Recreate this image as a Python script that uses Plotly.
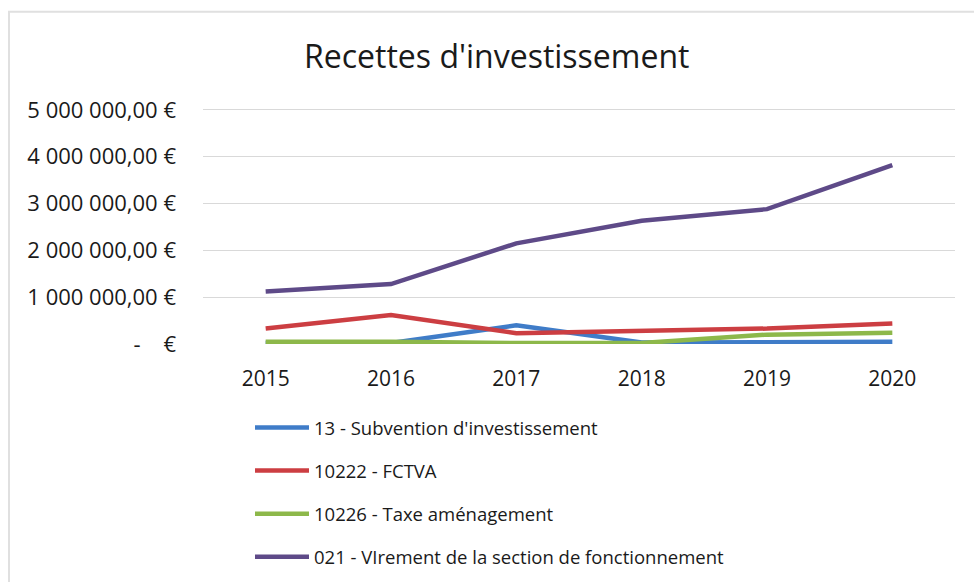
import plotly.graph_objects as go

years = ["2015", "2016", "2017", "2018", "2019", "2020"]
subvention = [20000, 20000, 400000, 30000, 40000, 50000]
fctva = [330000, 620000, 230000, 270000, 330000, 440000]
taxe = [50000, 50000, 20000, 20000, 200000, 240000]
virement = [1120000, 1280000, 2150000, 2630000, 2880000, 3820000]

series_names = [
    "13 - Subvention d'investissement",
    "10222 - FCTVA",
    "10226 - Taxe aménagement",
    "021 - VIrement de la section de fonctionnement",
]
series_values = [subvention, fctva, taxe, virement]
colors = ["#3F7CC8", "#CC3E42", "#8DB84A", "#5E4A88"]

tick_vals = [0, 1000000, 2000000, 3000000, 4000000, 5000000]
tick_text = ["-\u00a0\u00a0\u00a0\u00a0€", "1 000 000,00 €", "2 000 000,00 €",
             "3 000 000,00 €", "4 000 000,00 €", "5 000 000,00 €"]

FONT = "Open Sans"
Y_MAX = 5040000
PLOT_H = 234 * Y_MAX / 5000000
TOP = 582 - 238 - PLOT_H

fig = go.Figure()
for i, (name, vals, col) in enumerate(zip(series_names, series_values, colors)):
    fig.add_trace(go.Scatter(
        x=years, y=vals, name=name, mode="lines",
        line=dict(color=col, width=4.5),
        legendgroup=f"g{i}",
    ))

fig.update_layout(
    width=974, height=582,
    paper_bgcolor="white", plot_bgcolor="white",
    margin=dict(l=203, r=19, t=TOP, b=238, autoexpand=False),
    title=dict(text="Recettes d'investissement", x=0.51, xanchor="center",
               y=1 - 57 / 582, yanchor="middle",
               font=dict(family=FONT, size=32, color="#1a1a1a")),
    font=dict(family=FONT, color="#1a1a1a"),
    showlegend=True,
    legend=dict(
        xref="container", yref="container",
        x=250 / 974, y=1 - 409 / 582, xanchor="left", yanchor="top",
        font=dict(family=FONT, size=18.5, color="#1a1a1a"),
        tracegroupgap=16, itemwidth=54, bgcolor="rgba(0,0,0,0)",
    ),
    xaxis=dict(
        type="category", range=[-0.5, 5.5],
        showgrid=False, zeroline=False, showline=False,
        ticks="", tickfont=dict(family=FONT, size=21, color="#1a1a1a"),
        ticklabelstandoff=20, tickangle=0,
    ),
    yaxis=dict(
        range=[0, Y_MAX], tickvals=tick_vals, ticktext=tick_text,
        showgrid=True, gridcolor="#d9d9d9", gridwidth=1,
        zeroline=False, showline=False, ticks="",
        tickfont=dict(family=FONT, size=22, color="#1a1a1a"),
        ticklabelstandoff=26,
    ),
    shapes=[dict(type="rect", xref="paper", yref="paper",
                 x0=-194 / 752, x1=1.2, y0=-1.2, y1=(344 - 12) / PLOT_H,
                 line=dict(color="#e0e0e0", width=2), layer="below")],
)

fig.write_html("out.html", config={"displayModeBar": False},
               post_script="document.body.style.margin='0';")
